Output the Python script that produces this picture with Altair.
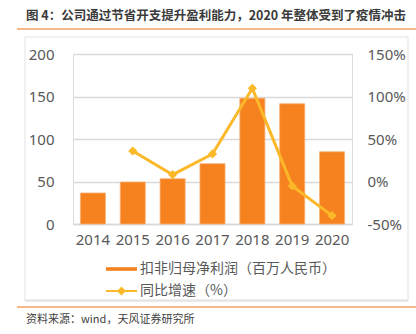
import altair as alt
import pandas as pd

years = ["2014", "2015", "2016", "2017", "2018", "2019", "2020"]
profit = [36.5, 49.4, 53.3, 71.0, 148.0, 141.5, 85.0]
growth = [None, 35.9, 8.0, 32.4, 109.6, -5.3, -40.2]

bar_name = "扣非归母净利润（百万人民币）"
line_name = "同比增速（%）"
title_text = "图 4：公司通过节省开支提升盈利能力，2020 年整体受到了疫情冲击"
source_text = "资料来源：wind，天风证券研究所"

BAR = "#F5821F"
LINE = "#FBB829"
ACC = "#F2A05E"
GRID = "#D9D9D9"
LAB = "#595959"
FONT = "Noto Sans"
CJK = "Noto Sans CJK SC"

df = pd.DataFrame({"year": years, "profit": profit, "growth": growth,
                   "bar": bar_name, "line": line_name})
one = pd.DataFrame({"k": [0]})

x = alt.X("year:O", title=None,
          scale=alt.Scale(paddingInner=0.37, paddingOuter=0.185),
          axis=alt.Axis(labelAngle=0, labelFontSize=15, labelColor=LAB, labelFont=FONT,
                        ticks=False, domainColor=GRID, domainWidth=1.5, labelPadding=8))

bars = alt.Chart(df).mark_bar(stroke="#F9B27A", strokeWidth=0.8).encode(
    x=x,
    y=alt.Y("profit:Q", title=None,
            scale=alt.Scale(domain=[0, 200], nice=False),
            axis=alt.Axis(values=[0, 50, 100, 150, 200], labelFontSize=15, labelColor=LAB,
                          labelFont=FONT, ticks=False, domain=False, gridColor=GRID,
                          gridWidth=1.5, labelPadding=19)),
    color=alt.Color("bar:N", scale=alt.Scale(domain=[bar_name], range=[BAR]),
                    legend=alt.Legend(title=None, orient="none", legendX=33, legendY=199.5,
                                      symbolType="M-1,-0.115H1V0.115H-1Z", symbolSize=961,
                                      labelFontSize=14, labelColor=LAB, labelFont=CJK,
                                      labelOffset=3, padding=0, symbolStrokeWidth=0,
                                      labelLimit=400)),
)

yr = alt.Scale(domain=[-50, 150], nice=False)

line = alt.Chart(df).transform_filter("isValid(datum.growth)").mark_line(
    color=LINE, strokeWidth=3).encode(
    x=x,
    y=alt.Y("growth:Q", title=None, scale=yr,
            axis=alt.Axis(orient="right", values=[-50, 0, 50, 100, 150],
                          labelExpr="datum.value + '%'", labelFontSize=15, labelColor=LAB,
                          labelFont=FONT, ticks=False, domain=False, grid=False,
                          labelPadding=15)),
)

points = alt.Chart(df).transform_filter("isValid(datum.growth)").mark_point(
    shape="diamond", size=85, filled=True, opacity=1).encode(
    x=x,
    y=alt.Y("growth:Q", scale=yr, axis=None),
    fill=alt.Fill("line:N", scale=alt.Scale(domain=[line_name], range=[LINE]),
                  legend=alt.Legend(title=None, orient="none", legendX=33, legendY=221.5,
                                    symbolType="M-1,-0.06H1V0.06H-1Z M0,-0.29L0.29,0L0,0.29L-0.29,0Z",
                                    symbolSize=961, labelFontSize=14, labelColor=LAB,
                                    labelFont=CJK, labelOffset=3, padding=0,
                                    symbolStrokeWidth=0, labelLimit=400)),
)

frame = alt.Chart(one).mark_rect(fillOpacity=0, stroke="#E3E3E3", strokeWidth=1).encode(
    x=alt.value(-48), x2=alt.value(335), y=alt.value(-17), y2=alt.value(247))
frame_bottom = alt.Chart(one).mark_rule(color="#E6E6E6", strokeWidth=2.5).encode(
    x=alt.value(-48), x2=alt.value(335), y=alt.value(246.5))
top_rule = alt.Chart(one).mark_rule(color=ACC, strokeWidth=1.5).encode(
    x=alt.value(-56), x2=alt.value(343), y=alt.value(-25))
bot_rule = alt.Chart(one).mark_rule(color=ACC, strokeWidth=1.5).encode(
    x=alt.value(-56), x2=alt.value(343), y=alt.value(253))
title = alt.Chart(one).mark_text(text=title_text, align="left", baseline="middle",
                                  font=CJK, fontSize=12.5, fontWeight="bold",
                                  color="#3A3A3A").encode(x=alt.value(-47), y=alt.value(-38))
source = alt.Chart(one).mark_text(text=source_text, align="left", baseline="middle",
                                   font=CJK, fontSize=11, color="#404040").encode(
    x=alt.value(-47), y=alt.value(266))

chart = alt.layer(frame, frame_bottom, top_rule, bot_rule, title, source, bars, line, points).resolve_scale(
    y="independent").properties(
    width=279, height=170,
    padding={"left": 73, "top": 54, "right": 64, "bottom": 110},
    autosize=alt.AutoSizeParams(type="none"),
).configure_view(stroke=None).configure(background="white")

chart.save("out.html", embed_options={"renderer": "svg", "actions": False})
